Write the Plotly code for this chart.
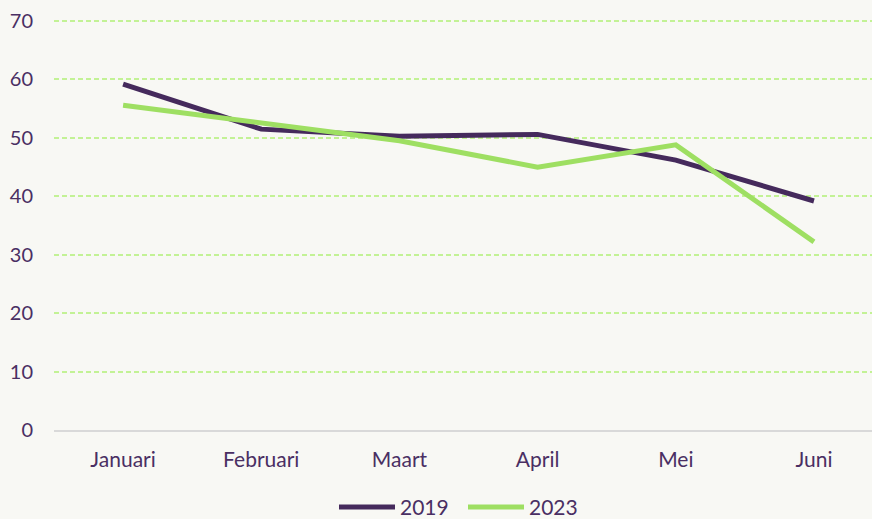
import plotly.graph_objects as go

months = ["Januari", "Februari", "Maart", "April", "Mei", "Juni"]
values_2019 = [59.2, 51.5, 50.3, 50.6, 46.2, 39.2]
values_2023 = [55.6, 52.6, 49.5, 45.0, 48.8, 32.2]

TXT = "#4a2f63"
fig = go.Figure()
fig.add_trace(go.Scatter(x=months, y=values_2019, name="2019", mode="lines",
                         line=dict(color="#452a5c", width=5)))
fig.add_trace(go.Scatter(x=months, y=values_2023, name="2023", mode="lines",
                         line=dict(color="#9edf62", width=5)))

fig.update_layout(
    width=872, height=519,
    margin=dict(l=54, r=0, t=19, b=89, autoexpand=False),
    paper_bgcolor="#f8f8f4", plot_bgcolor="#f8f8f4",
    font=dict(family="Lato", size=21, color=TXT),
    showlegend=True,
    legend=dict(orientation="h", x=0.5, xanchor="center", y=-0.188, yanchor="middle",
                font=dict(size=21, color=TXT), itemwidth=56, traceorder="normal",
                entrywidth=58, entrywidthmode="pixels",
                bgcolor="rgba(0,0,0,0)"),
    xaxis=dict(range=[-0.5, 5.42], showgrid=False, zeroline=False, showline=True,
               linecolor="#d9d9d9", linewidth=2, ticks="", ticklabelstandoff=10,
               tickfont=dict(size=21, color=TXT)),
    yaxis=dict(range=[0, 70.35], tickvals=[0, 10, 20, 30, 40, 50, 60, 70],
               showgrid=True, gridcolor="#c3f295",
               griddash="5px,3px", gridwidth=1.5, zeroline=False, showline=False,
               ticks="", ticklabelstandoff=20, tickfont=dict(size=20, color=TXT)),
)
fig.write_html("out.html", config={"displayModeBar": False},
               post_script="document.body.style.margin='0';document.body.style.background='#f8f8f4';")
